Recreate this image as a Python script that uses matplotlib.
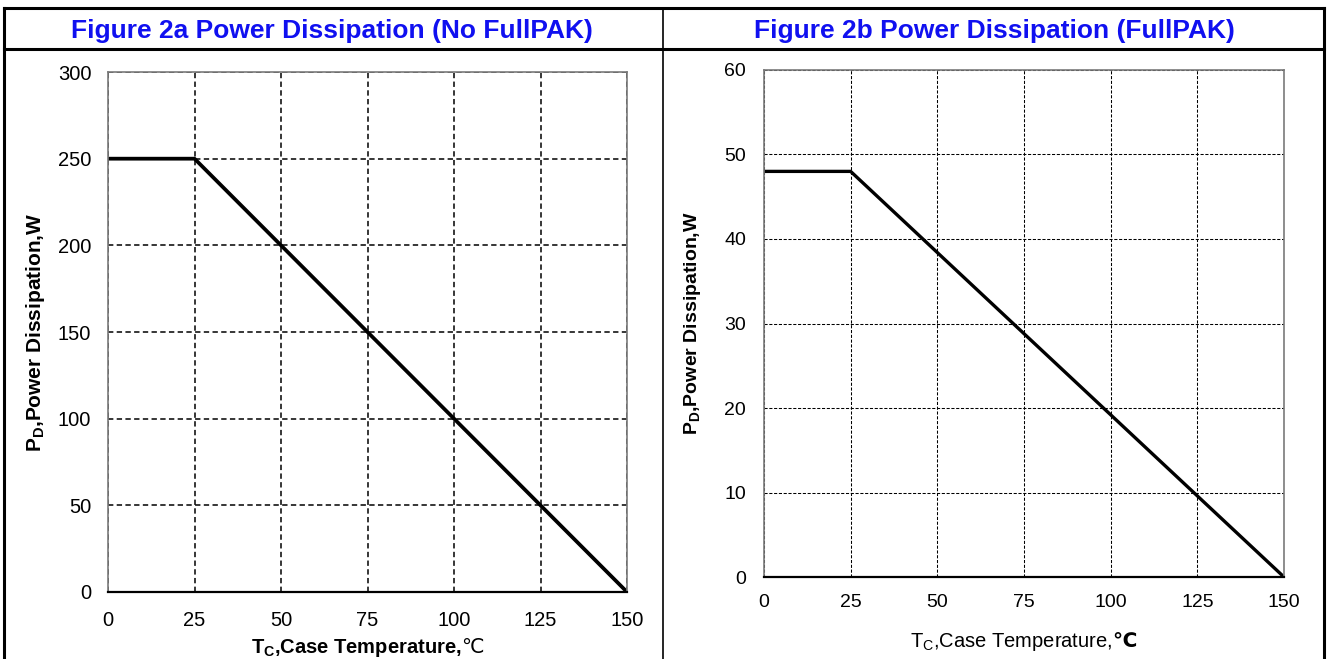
import matplotlib.pyplot as plt
from matplotlib.lines import Line2D

plt.rcParams['font.family'] = ['Liberation Sans', 'DejaVu Sans']
plt.rcParams['mathtext.fontset'] = 'custom'
plt.rcParams['mathtext.rm'] = 'Liberation Sans'
plt.rcParams['mathtext.bf'] = 'Liberation Sans:bold'
plt.rcParams['mathtext.sf'] = 'DejaVu Sans'
plt.rcParams['mathtext.tt'] = 'DejaVu Sans:bold'

# data
temp = [0, 25, 150]
power_a = [250, 250, 0]
power_b = [48, 48, 0]
xticks = [0, 25, 50, 75, 100, 125, 150]
yticks_a = [0, 50, 100, 150, 200, 250, 300]
yticks_b = [0, 10, 20, 30, 40, 50, 60]

title_a = "Figure 2a Power Dissipation (No FullPAK)"
title_b = "Figure 2b Power Dissipation (FullPAK)"
ylab = r"$\mathbf{P_{D}}$,Power Dissipation,W"
xlab_a = r"$\mathbf{T_{C}}$,Case Temperature,$\mathsf{℃}$"
xlab_b = r"T$_\mathrm{C}$,Case Temperature,$\mathtt{℃}$"

narrow = ['Liberation Sans Narrow', 'Liberation Sans', 'DejaVu Sans']

fig = plt.figure(figsize=(13.27, 6.59), dpi=100)

# table frame
frame = dict(color="black", lw=2.2, transform=fig.transFigure)
fig.add_artist(Line2D([0.003, 0.998], [0.988, 0.988], **frame))
fig.add_artist(Line2D([0.003, 0.998], [0.925, 0.925], **frame))
fig.add_artist(Line2D([0.003, 0.003], [0.0, 0.988], **frame))
fig.add_artist(Line2D([0.998, 0.998], [0.0, 0.988], **frame))
fig.add_artist(Line2D([0.4996, 0.4996], [0.0, 0.988], color="black", lw=1.2,
                      transform=fig.transFigure))

fig.text(0.2505, 0.953, title_a, ha="center", va="center", color="#1010F0",
         fontsize=19, fontweight="bold")
fig.text(0.7497, 0.953, title_b, ha="center", va="center", color="#1010F0",
         fontsize=19, fontweight="bold")


def setup(ax, yticks, grid_lw, dash):
    ax.set_xlim(0, 150)
    ax.set_ylim(yticks[0], yticks[-1])
    ax.set_xticks(xticks)
    ax.set_yticks(yticks)
    ax.grid(True, color="black", linestyle=(0, dash), lw=grid_lw)
    for s in ["top", "right", "left"]:
        ax.spines[s].set_color("#7a7a7a")
        ax.spines[s].set_linewidth(1.2)
    ax.spines["bottom"].set_color("black")
    ax.spines["bottom"].set_linewidth(1.6)
    ax.set_axisbelow(True)


ax1 = fig.add_axes([0.0814, 0.1017, 0.3911, 0.789])
ax1.plot(temp, power_a, color="black", lw=2.7, solid_capstyle="butt")
setup(ax1, yticks_a, 1.1, (3.5, 2.2))
ax1.tick_params(length=0, labelsize=14.5)
ax1.tick_params(axis="y", pad=12)
ax1.tick_params(axis="x", pad=14)
ax1.set_ylabel(ylab, fontsize=15, fontweight="bold", labelpad=8)
ax1.set_xlabel(xlab_a, fontsize=14.5, fontweight="bold", labelpad=4)

ax2 = fig.add_axes([0.5757, 0.1244, 0.3919, 0.7694])
ax2.plot(temp, power_b, color="black", lw=2.4, solid_capstyle="butt")
setup(ax2, yticks_b, 0.75, (3, 1.6))
ax2.tick_params(length=0, labelsize=14)
ax2.tick_params(axis="y", pad=13)
ax2.tick_params(axis="x", pad=12)
for lab in ax2.get_xticklabels() + ax2.get_yticklabels():
    lab.set_family(narrow)
ax2.set_ylabel(ylab, fontsize=14, fontweight="bold", labelpad=15)
ax2.set_xlabel(xlab_b, fontsize=14.5, family=narrow, labelpad=14)

fig.savefig("out.png", dpi=100)
